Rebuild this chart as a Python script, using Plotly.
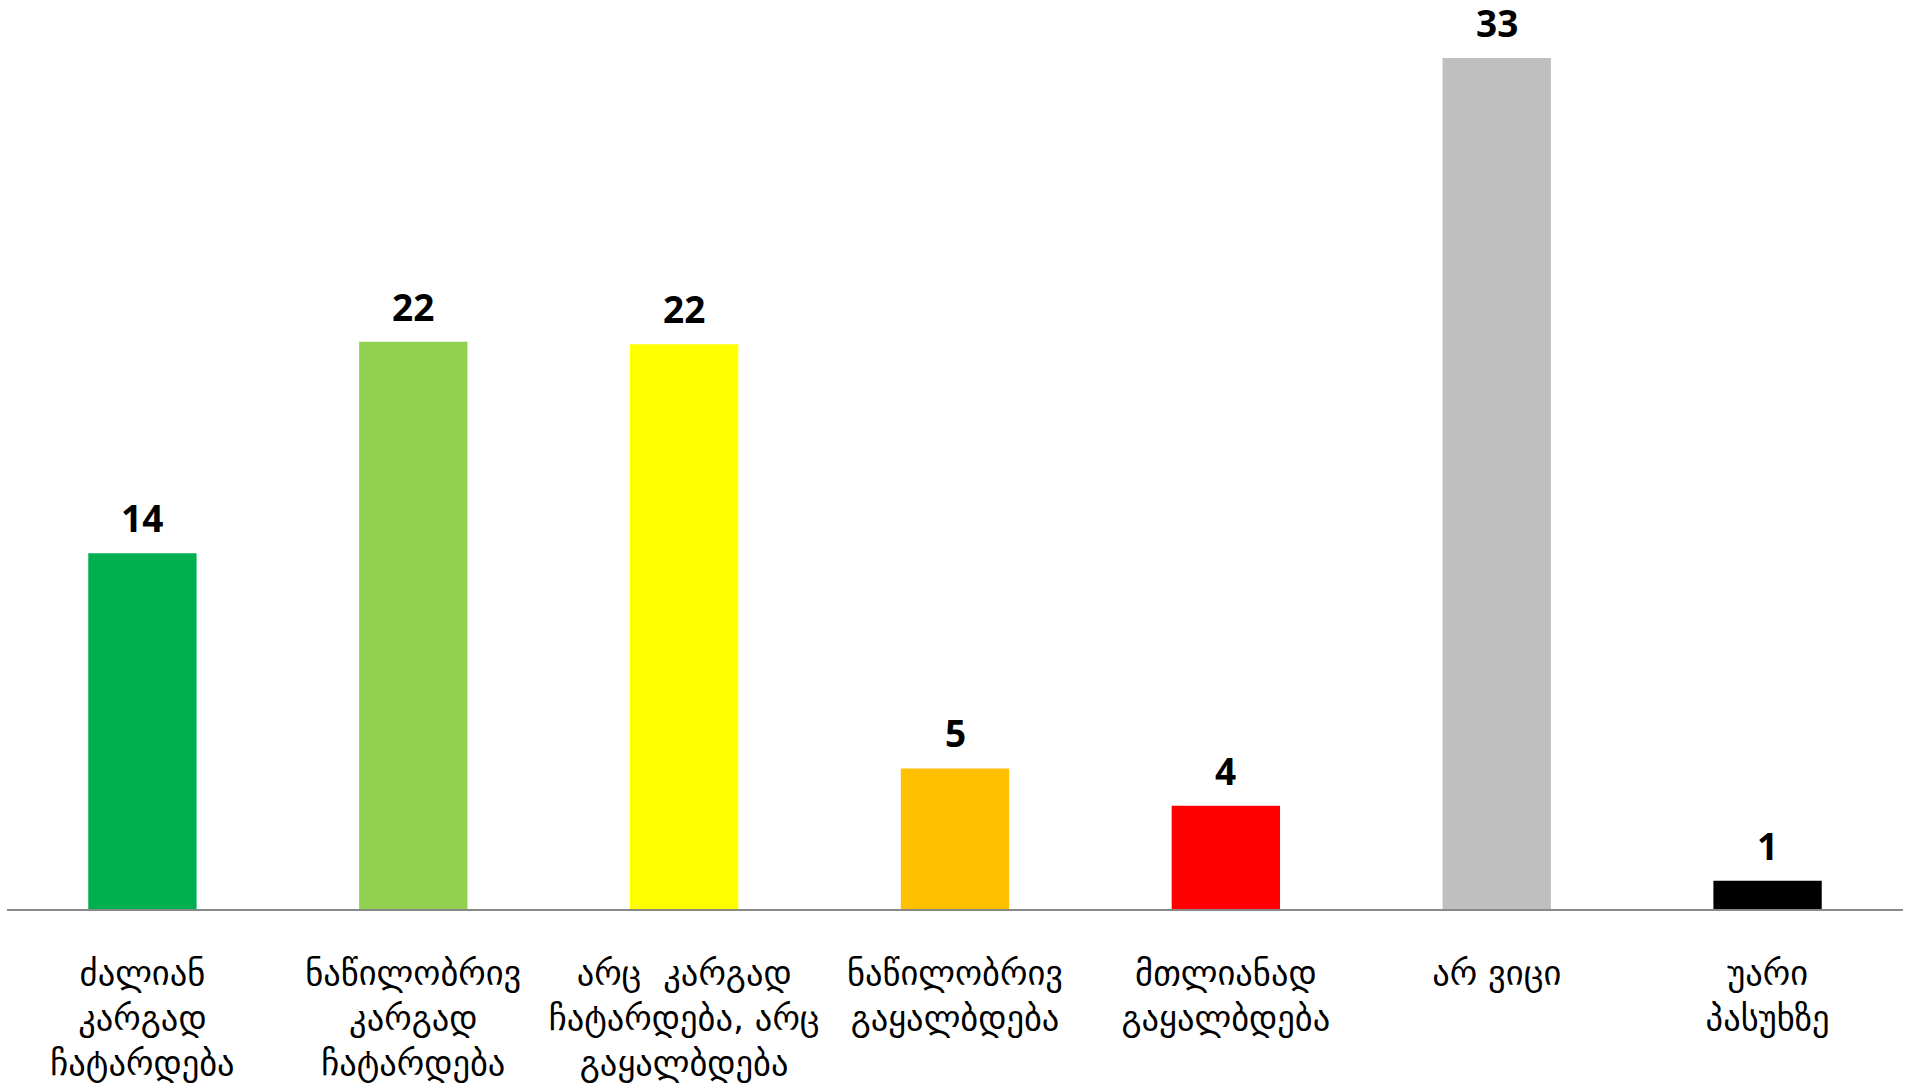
import plotly.graph_objects as go

categories = [
    "ძალიან<br>კარგად<br>ჩატარდება",
    "ნაწილობრივ<br>კარგად<br>ჩატარდება",
    "არც  კარგად<br>ჩატარდება, არც<br>გაყალბდება",
    "ნაწილობრივ<br>გაყალბდება",
    "მთლიანად<br>გაყალბდება",
    "არ ვიცი",
    "უარი<br>პასუხზე",
]
values = [13.8, 22.0, 21.9, 5.45, 4.0, 33.0, 1.1]
colors = ["#00B050", "#92D050", "#FFFF00", "#FFC000", "#FF0000", "#BFBFBF", "#000000"]

fig = go.Figure()
fig.add_trace(go.Bar(
    x=categories, y=values,
    marker=dict(color=colors, line=dict(width=0)),
    hoverinfo="skip",
))

for c, v in zip(categories, values):
    fig.add_annotation(
        x=c, y=v, text=f"<b>{v:.0f}</b>", showarrow=False,
        yanchor="bottom", yshift=9, borderpad=0,
        font=dict(family="Open Sans", size=37, color="#000000"),
    )

fig.update_layout(
    width=1910, height=1085,
    margin=dict(l=7, r=7, t=0, b=176, autoexpand=False),
    paper_bgcolor="white", plot_bgcolor="white",
    bargap=0.6, showlegend=False,
    xaxis=dict(
        automargin=False,
        showline=True, linecolor="#898989", linewidth=2,
        ticks="outside", ticklen=33, tickcolor="rgba(0,0,0,0)",
        tickfont=dict(family="DejaVu Sans", size=34.5, color="#000000"),
        tickangle=0, showgrid=False, zeroline=False,
    ),
    yaxis=dict(range=[0, 35.25], visible=False, showgrid=False, zeroline=False),
)

fig.write_html(
    "out.html",
    config={"displayModeBar": False},
    post_script="document.body.style.margin='0';document.body.style.overflow='hidden';",
)
